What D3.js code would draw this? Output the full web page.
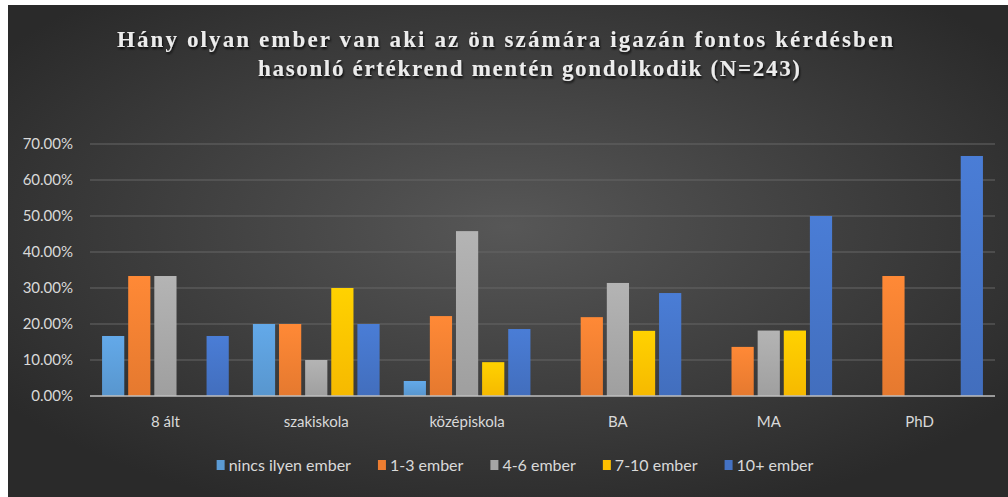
<!DOCTYPE html>
<html>
<head>
<meta charset="utf-8">
<script src="https://cdn.jsdelivr.net/npm/d3@7"></script>
<style>
  html, body { margin: 0; padding: 0; background: #fff; }
  svg { display: block; }
  text { font-family: Lato, "Open Sans", sans-serif; }
</style>
</head>
<body>
<svg id="chart" width="1008" height="497"></svg>
<script>
// data
const categories = ['8 ált', 'szakiskola', 'középiskola', 'BA', 'MA', 'PhD'];
const seriesNames = ['nincs ilyen ember', '1-3 ember', '4-6 ember', '7-10 ember', '10+ ember'];
const seriesColors = ['#5b9bd5', '#ed7d31', '#a5a5a5', '#ffc000', '#4472c4'];
const nincs = [16.67, 20, 4.17, 0, 0, 0];
const egyHarom = [33.33, 20, 22.2, 21.9, 13.64, 33.33];
const negyHat = [33.33, 10, 45.8, 31.4, 18.18, 0];
const hetTiz = [0, 30, 9.4, 18.1, 18.18, 0];
const tizPlusz = [16.67, 20, 18.6, 28.6, 50, 66.67];
const yTicks = [0, 10, 20, 30, 40, 50, 60, 70];
const titleLines = [
  'Hány olyan ember van aki az ön számára igazán fontos  kérdésben',
  'hasonló értékrend mentén gondolkodik  (N=243)'
];

const seriesValues = [nincs, egyHarom, negyHat, hetTiz, tizPlusz];
const rows = categories.map((c, i) => ({
  cat: c,
  vals: seriesNames.map((s, j) => ({ key: s, idx: j, value: seriesValues[j][i] }))
}));

const svg = d3.select('#chart');
const W = 1008, H = 497;
const plot = { left: 90, right: 995, top: 144, bottom: 396 };

const defs = svg.append('defs');
const bg = defs.append('radialGradient').attr('id', 'bg')
  .attr('cx', '0.5').attr('cy', '0.45').attr('r', '0.62');
bg.append('stop').attr('offset', '0%').attr('stop-color', '#575757');
bg.append('stop').attr('offset', '100%').attr('stop-color', '#2a2a2a');

const shadow = defs.append('filter').attr('id', 'shadow')
  .attr('x', '-5%').attr('y', '-20%').attr('width', '110%').attr('height', '150%');
shadow.append('feDropShadow').attr('dx', 1).attr('dy', 2).attr('stdDeviation', 1.2)
  .attr('flood-color', '#000').attr('flood-opacity', 0.8);

seriesColors.forEach((c, i) => {
  const g = defs.append('linearGradient').attr('id', 'bar' + i)
    .attr('x1', 0).attr('y1', 0).attr('x2', 0).attr('y2', 1);
  g.append('stop').attr('offset', '0%').attr('stop-color', d3.color(c).brighter(0.25));
  g.append('stop').attr('offset', '100%').attr('stop-color', d3.color(c).darker(0.1));
});

// chart area (small white margin left/top like the screenshot)
svg.append('rect').attr('x', 8).attr('y', 5).attr('width', W - 8).attr('height', H - 5)
  .attr('fill', 'url(#bg)');

// title
const title = svg.append('g').attr('class', 'title').attr('filter', 'url(#shadow)');
const titleWidths = [776, 542];
const titleCenters = [505, 529];
titleLines.forEach((t, i) => {
  title.append('text')
    .attr('x', titleCenters[i])
    .attr('y', 47 + i * 29)
    .attr('text-anchor', 'middle')
    .attr('textLength', titleWidths[i])
    .attr('lengthAdjust', 'spacing')
    .style('font-family', '"Liberation Serif", "DejaVu Serif", serif')
    .style('font-size', '23px')
    .style('font-weight', 'bold')
    .attr('fill', '#ececec')
    .text(t);
});

const y = d3.scaleLinear().domain([0, 70]).range([plot.bottom, plot.top]);
const x0 = d3.scaleBand().domain(categories).range([plot.left, plot.right])
  .paddingInner(0.16).paddingOuter(0.08);
const x1 = d3.scaleBand().domain(seriesNames).range([0, x0.bandwidth()]).paddingInner(0.15);

// gridlines
svg.append('g').selectAll('line').data(yTicks.filter((d) => d > 0)).join('line')
  .attr('x1', plot.left).attr('x2', plot.right)
  .attr('y1', (d) => y(d)).attr('y2', (d) => y(d))
  .attr('stroke', '#666').attr('stroke-width', 1);

// y labels
svg.append('g').selectAll('text').data(yTicks).join('text')
  .attr('x', 73).attr('y', (d) => y(d)).attr('dy', '0.35em')
  .attr('text-anchor', 'end')
  .attr('fill', '#d9d9d9').style('font-size', '15px')
  .text((d) => d.toFixed(2) + '%');

// bars
svg.append('g').selectAll('g').data(rows).join('g')
  .attr('transform', (d) => `translate(${x0(d.cat)},0)`)
  .selectAll('rect').data((d) => d.vals.filter((v) => v.value > 0)).join('rect')
  .attr('x', (d) => x1(d.key))
  .attr('width', x1.bandwidth())
  .attr('y', (d) => y(d.value))
  .attr('height', (d) => y(0) - y(d.value))
  .attr('fill', (d) => `url(#bar${d.idx})`);

// baseline
svg.append('line').attr('x1', plot.left).attr('x2', plot.right)
  .attr('y1', y(0)).attr('y2', y(0))
  .attr('stroke', '#bfbfbf').attr('stroke-width', 1.5);

// x labels
svg.append('g').selectAll('text').data(categories).join('text')
  .attr('x', (d) => x0(d) + x0.bandwidth() / 2)
  .attr('y', 427)
  .attr('text-anchor', 'middle')
  .attr('fill', '#d9d9d9').style('font-size', '15px')
  .text((d) => d);

// legend
const legend = svg.append('g').attr('class', 'legend');
const items = legend.selectAll('g').data(seriesNames).join('g');
items.append('rect').attr('width', 8).attr('height', 10).attr('y', -5)
  .attr('fill', (d, i) => seriesColors[i]);
items.append('text').attr('x', 12).attr('dy', '0.35em')
  .attr('fill', '#d9d9d9').style('font-size', '16px')
  .text((d) => d);
let lx = 0;
const gap = 27;
items.each(function () {
  const w = this.querySelector('text').getComputedTextLength() + 12;
  d3.select(this).attr('transform', `translate(${lx},0)`);
  lx += w + gap;
});
const totalLegend = lx - gap;
legend.attr('transform', `translate(${(208 + 822) / 2 - totalLegend / 2},465)`);
</script>
</body>
</html>
